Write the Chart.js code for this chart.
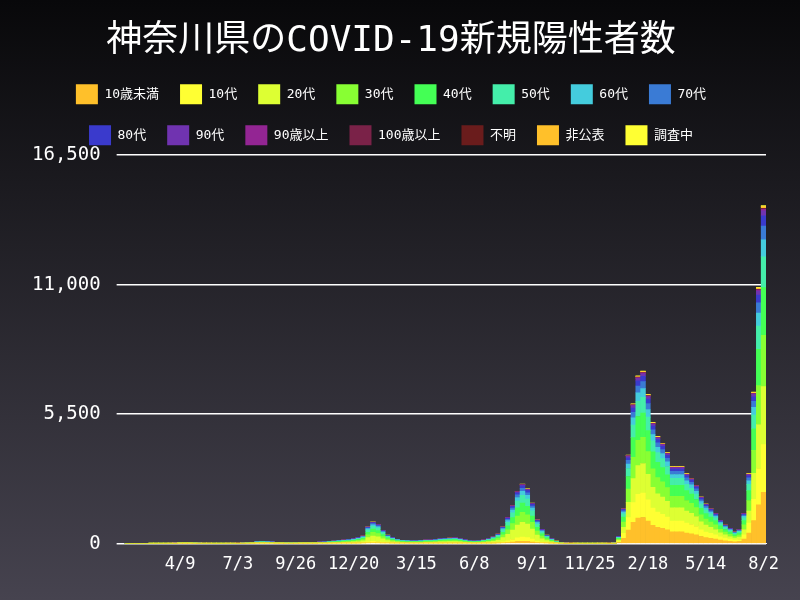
<!DOCTYPE html>
<html>
<head>
<meta charset="utf-8">
<script src="https://cdn.jsdelivr.net/npm/chart.js@4"></script>
<style>
  html, body { margin: 0; padding: 0; background: #000; }
  #wrap { width: 800px; height: 600px; }
</style>
</head>
<body>
<div id="wrap"><canvas id="myChart" width="800" height="600"></canvas></div>
<script>
//! Les données.

const startDate = new Date(2020, 0, 20);

// moyenne journalière par semaine (lecture du graphique)
const weeklyTotals = [
  0, 0, 0, 0, 1, 2,
  3, 4, 6, 10, 20,
  50, 60, 55, 40,
  25, 12, 8, 5,
  4, 5, 8, 10, 15,
  25, 40, 60, 80,
  90, 85, 70, 60, 50,
  45, 40, 45, 50,
  50, 55, 60, 65,
  70, 90, 110, 130, 150,
  170, 200, 250, 320,
  700, 900, 800, 550,
  350, 250, 180, 140,
  130, 120, 120, 130, 150,
  150, 170, 200, 220,
  230, 240, 200, 160, 120,
  110, 120, 150, 200,
  280, 400, 700, 1100,
  1600, 2200, 2500, 2300, 1700,
  1000, 600, 350, 200,
  100, 40, 20, 15,
  8, 6, 5, 6, 7,
  8, 10, 15, 30,
  300, 1500, 3800, 6000,
  7200, 7400, 6400, 5200,
  4600, 4300, 3900, 3300,
  3300, 3300, 3000, 2800,
  2500, 2000, 1700, 1500,
  1300, 1000,
  800, 650, 500, 600,
  1300, 3000, 6500, 11000,
  14500
];

const ageLabels = ['10歳未満', '10代', '20代', '30代', '40代', '50代', '60代', '70代',
  '80代', '90代', '90歳以上', '100歳以上', '不明', '非公表', '調査中'];

const ageColors = ['#ffc02a', '#ffff33', '#ddff33', '#88ff33', '#44ff55', '#44eeaa', '#44ccdd', '#3a7bd5',
  '#3a3acc', '#7033b0', '#932593', '#7a2248', '#6a1c1c', '#ffc02a', '#ffff33'];

// répartition par âge avant 2022 et pendant 2022
const sharesBefore2022 = [0.04, 0.07, 0.25, 0.17, 0.16, 0.13, 0.07, 0.05, 0.04, 0.015, 0.005, 0, 0.003, 0.005, 0.002];
const shares2022 = [0.15, 0.14, 0.17, 0.15, 0.14, 0.09, 0.05, 0.04, 0.03, 0.015, 0.005, 0, 0.002, 0.005, 0.003];

const tickDates = ['4/9', '7/3', '9/26', '12/20', '3/15', '6/8', '9/1', '11/25', '2/18', '5/14', '8/2'];

//! --------------------------------------------------

const weekDates = weeklyTotals.map((v, i) => new Date(startDate.getTime() + i * 7 * 86400000));
const labels = weekDates.map(d => (d.getMonth() + 1) + '/' + d.getDate());

// semaine contenant chaque date de graduation
const tickIndex = {};
let year = 2020, lastMonth = 0;
tickDates.forEach((t) => {
  const [m, d] = t.split('/').map(Number);
  if (m < lastMonth) year++;
  lastMonth = m;
  const td = new Date(year, m - 1, d);
  const idx = Math.min(weeklyTotals.length - 1, Math.floor((td - startDate) / (7 * 86400000)));
  tickIndex[idx] = t;
});

const datasets = ageLabels.map((label, k) => ({
  label,
  data: weeklyTotals.map((total, i) => {
    const s = weekDates[i].getFullYear() >= 2022 ? shares2022 : sharesBefore2022;
    return Math.round(total * s[k]);
  }),
  backgroundColor: ageColors[k],
  borderWidth: 0,
  barPercentage: 1,
  categoryPercentage: 1,
}));

const fontFamily = "'DejaVu Sans Mono', 'Noto Sans CJK JP', monospace";

const bgPlugin = {
  id: 'bg',
  beforeDraw(chart) {
    const { ctx, width, height } = chart;
    const g = ctx.createLinearGradient(0, 0, 0, height);
    g.addColorStop(0, '#08080a');
    g.addColorStop(1, '#46434f');
    ctx.save();
    ctx.fillStyle = g;
    ctx.fillRect(0, 0, width, height);
    ctx.restore();
  }
};

new Chart(document.getElementById('myChart').getContext('2d'), {
  type: 'bar',
  data: { labels, datasets },
  plugins: [bgPlugin],
  options: {
    responsive: false,
    animation: false,
    layout: { padding: { left: 16, right: 34, bottom: 22 } },
    plugins: {
      title: {
        display: true,
        text: '神奈川県のCOVID-19新規陽性者数',
        color: '#ffffff',
        font: { family: "'DejaVu Sans Mono', 'Noto Sans CJK JP', sans-serif", size: 36, weight: 'normal' },
        padding: { top: 20, bottom: 0 }
      },
      legend: {
        labels: {
          color: '#ffffff',
          font: { family: fontFamily, size: 13 },
          boxWidth: 22,
          boxHeight: 20,
          padding: 21
        }
      },
      tooltip: { enabled: false }
    },
    scales: {
      x: {
        stacked: true,
        grid: { display: false },
        border: { color: '#ffffff' },
        ticks: {
          color: '#ffffff',
          font: { family: fontFamily, size: 17 },
          autoSkip: false,
          maxRotation: 0,
          callback: (v, i) => tickIndex[i] || null
        }
      },
      y: {
        stacked: true,
        min: 0,
        max: 16500,
        border: { display: false },
        grid: { color: '#ffffff', lineWidth: 1.5 },
        ticks: {
          stepSize: 5500,
          color: '#ffffff',
          font: { family: fontFamily, size: 19 },
          padding: 16,
          callback: v => v.toLocaleString('en-US')
        }
      }
    }
  }
});
</script>
</body>
</html>
